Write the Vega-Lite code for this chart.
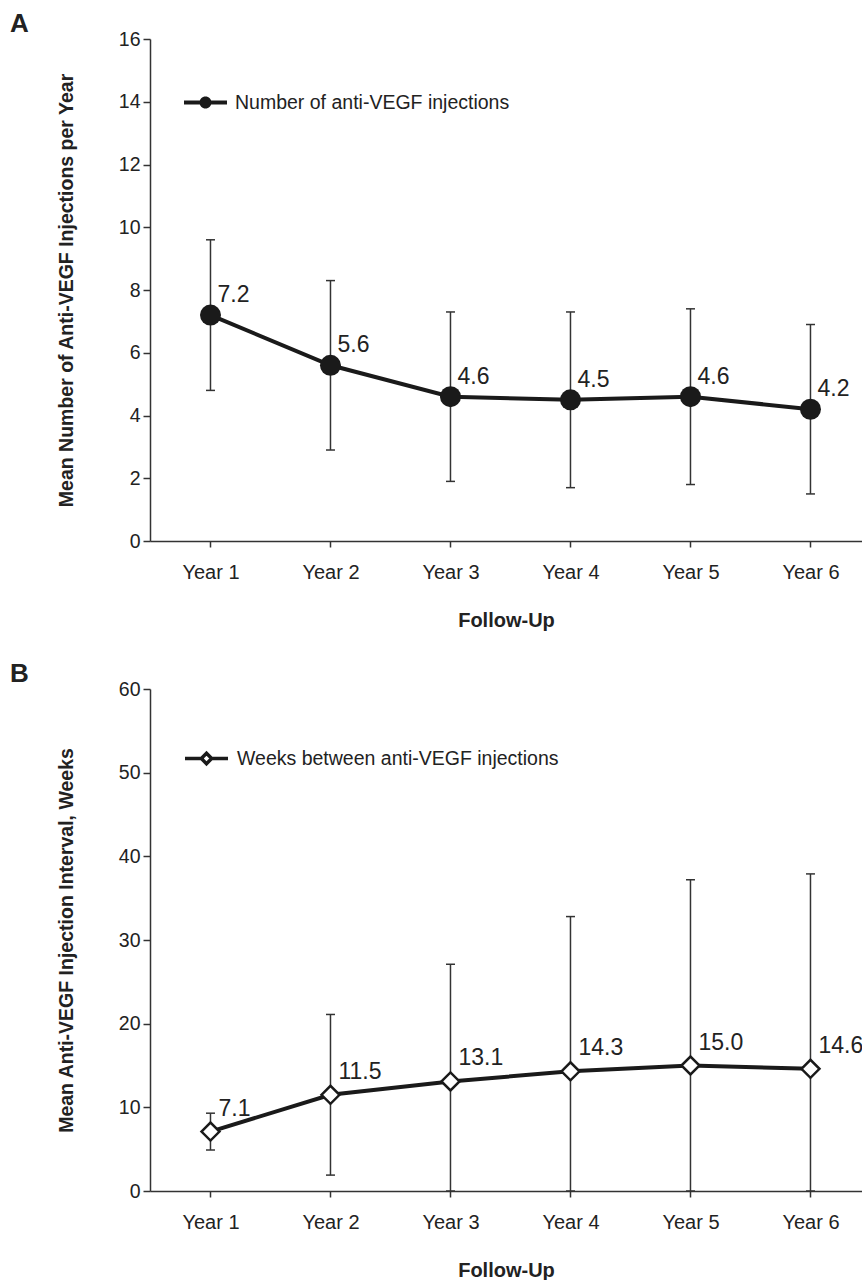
{
  "$schema": "https://vega.github.io/schema/vega-lite/v6.json",
  "padding": {"left": 10, "top": 11, "right": 0, "bottom": 0},
  "background": "white",
  "config": {
    "font": "Liberation Sans",
    "view": {"stroke": null},
    "axis": {"grid": false, "domainColor": "#333333", "tickColor": "#333333", "labelColor": "#222222", "titleColor": "#222222", "domainWidth": 1.5, "tickWidth": 1.5, "labelFont": "Liberation Sans", "titleFont": "Liberation Sans", "labelFontSize": 19.5, "titleFontWeight": "bold"},
    "concat": {"spacing": 31}
  },
  "resolve": {"legend": {"color": "independent", "stroke": "independent"}},
  "vconcat": [
    {
      "width": 712,
      "height": 502,
      "title": {"text": "A", "anchor": "start", "frame": "group", "dx": -140, "fontSize": 26, "fontWeight": "bold", "color": "#222222", "baseline": "bottom", "offset": -34},
      "data": {"values": [
        {"year": "Year 1", "mean": 7.2, "lo": 4.8, "hi": 9.6, "series": "Number of anti-VEGF injections"},
        {"year": "Year 2", "mean": 5.6, "lo": 2.9, "hi": 8.3, "series": "Number of anti-VEGF injections"},
        {"year": "Year 3", "mean": 4.6, "lo": 1.9, "hi": 7.3, "series": "Number of anti-VEGF injections"},
        {"year": "Year 4", "mean": 4.5, "lo": 1.7, "hi": 7.3, "series": "Number of anti-VEGF injections"},
        {"year": "Year 5", "mean": 4.6, "lo": 1.8, "hi": 7.4, "series": "Number of anti-VEGF injections"},
        {"year": "Year 6", "mean": 4.2, "lo": 1.5, "hi": 6.9, "series": "Number of anti-VEGF injections"}
      ]},
      "encoding": {
        "x": {"field": "year", "type": "ordinal", "scale": {"type": "point", "padding": 0.4667, "align": 0.54},
              "axis": {"title": "Follow-Up", "labelAngle": 0, "tickSize": 6, "labelPadding": 15, "labelFontSize": 20, "titleFontSize": 20, "titlePadding": 28}}
      },
      "layer": [
        {"mark": {"type": "rule", "color": "#333333", "strokeWidth": 1.5},
         "encoding": {"y": {"field": "lo", "type": "quantitative", "title": "Mean Number of Anti-VEGF Injections per Year", "scale": {"domain": [0, 16], "nice": false},
                            "axis": {"values": [0, 2, 4, 6, 8, 10, 12, 14, 16], "tickSize": 7, "labelPadding": 3, "titleFontSize": 19.5, "titlePadding": 42}},
                      "y2": {"field": "hi"}}},
        {"mark": {"type": "tick", "color": "#333333", "thickness": 1.5, "size": 9, "opacity": 1},
         "encoding": {"y": {"field": "hi", "type": "quantitative", "title": "Mean Number of Anti-VEGF Injections per Year"}}},
        {"mark": {"type": "tick", "color": "#333333", "thickness": 1.5, "size": 9, "opacity": 1},
         "encoding": {"y": {"field": "lo", "type": "quantitative", "title": "Mean Number of Anti-VEGF Injections per Year"}}},
        {"mark": {"type": "line", "color": "#1a1a1a", "strokeWidth": 4},
         "encoding": {"y": {"field": "mean", "type": "quantitative", "title": "Mean Number of Anti-VEGF Injections per Year"}}},
        {"mark": {"type": "point", "shape": "circle", "filled": true, "size": 441, "opacity": 1},
         "encoding": {"y": {"field": "mean", "type": "quantitative", "title": "Mean Number of Anti-VEGF Injections per Year"},
                      "color": {"field": "series", "type": "nominal", "scale": {"range": ["#1a1a1a"]},
                                "legend": {"title": null, "orient": "none", "legendX": 33, "legendY": 41, "padding": 0,
                                           "symbolType": "M-1,-0.09H-0.26V0.09H-1Z M0.26,-0.09H1V0.09H0.26Z M-0.28,0A0.28,0.28 0 1,1 0.28,0A0.28,0.28 0 1,1 -0.28,0Z",
                                           "symbolSize": 1849, "labelFontSize": 19.5, "labelColor": "#222222", "labelOffset": 7, "labelLimit": 600,
                                           "encode": {"symbols": {"update": {"fill": {"value": "#1a1a1a"}, "stroke": {"value": "#1a1a1a"}, "strokeWidth": {"value": 0}, "opacity": {"value": 1}}}}}}}},
        {"mark": {"type": "text", "align": "left", "baseline": "middle", "dx": 7, "dy": -20, "fontSize": 23, "color": "#222222"},
         "encoding": {"y": {"field": "mean", "type": "quantitative", "title": "Mean Number of Anti-VEGF Injections per Year"},
                      "text": {"field": "mean", "type": "quantitative", "format": ".1f"}}}
      ]
    },
    {
      "width": 712,
      "height": 502,
      "title": {"text": "B", "anchor": "start", "frame": "group", "dx": -140, "fontSize": 26, "fontWeight": "bold", "color": "#222222", "baseline": "bottom", "offset": -34},
      "data": {"values": [
        {"year": "Year 1", "mean": 7.1, "lo": 4.9, "hi": 9.3, "series": "Weeks between anti-VEGF injections"},
        {"year": "Year 2", "mean": 11.5, "lo": 1.9, "hi": 21.1, "series": "Weeks between anti-VEGF injections"},
        {"year": "Year 3", "mean": 13.1, "lo": 0, "hi": 27.1, "series": "Weeks between anti-VEGF injections"},
        {"year": "Year 4", "mean": 14.3, "lo": 0, "hi": 32.8, "series": "Weeks between anti-VEGF injections"},
        {"year": "Year 5", "mean": 15.0, "lo": 0, "hi": 37.2, "series": "Weeks between anti-VEGF injections"},
        {"year": "Year 6", "mean": 14.6, "lo": 0, "hi": 37.9, "series": "Weeks between anti-VEGF injections"}
      ]},
      "encoding": {
        "x": {"field": "year", "type": "ordinal", "scale": {"type": "point", "padding": 0.4667, "align": 0.54},
              "axis": {"title": "Follow-Up", "labelAngle": 0, "tickSize": 6, "labelPadding": 15, "labelFontSize": 20, "titleFontSize": 20, "titlePadding": 28}}
      },
      "layer": [
        {"mark": {"type": "rule", "color": "#333333", "strokeWidth": 1.5},
         "encoding": {"y": {"field": "lo", "type": "quantitative", "title": "Mean Anti-VEGF Injection Interval, Weeks", "scale": {"domain": [0, 60], "nice": false},
                            "axis": {"values": [0, 10, 20, 30, 40, 50, 60], "tickSize": 7, "labelPadding": 3, "titleFontSize": 19.5, "titlePadding": 42}},
                      "y2": {"field": "hi"}}},
        {"mark": {"type": "tick", "color": "#333333", "thickness": 1.5, "size": 9, "opacity": 1},
         "encoding": {"y": {"field": "hi", "type": "quantitative", "title": "Mean Anti-VEGF Injection Interval, Weeks"}}},
        {"mark": {"type": "tick", "color": "#333333", "thickness": 1.5, "size": 9, "opacity": 1},
         "encoding": {"y": {"field": "lo", "type": "quantitative", "title": "Mean Anti-VEGF Injection Interval, Weeks"}}},
        {"mark": {"type": "line", "color": "#1a1a1a", "strokeWidth": 4},
         "encoding": {"y": {"field": "mean", "type": "quantitative", "title": "Mean Anti-VEGF Injection Interval, Weeks"}}},
        {"mark": {"type": "point", "shape": "diamond", "filled": true, "fill": "white", "size": 324, "strokeWidth": 2.5, "opacity": 1},
         "encoding": {"y": {"field": "mean", "type": "quantitative", "title": "Mean Anti-VEGF Injection Interval, Weeks"},
                      "stroke": {"field": "series", "type": "nominal", "scale": {"range": ["#1a1a1a"]},
                                "legend": {"title": null, "orient": "none", "legendX": 33, "legendY": 46, "padding": 0,
                                           "symbolType": "M-1,0H-0.24M0.24,0H1M-0.24,0L0,-0.24L0.24,0L0,0.24Z",
                                           "symbolSize": 1849, "symbolStrokeWidth": 3.5, "symbolFillColor": "white", "symbolStrokeColor": "#1a1a1a",
                                           "labelFontSize": 19.5, "labelColor": "#222222", "labelOffset": 7, "labelLimit": 600,
                                           "encode": {"symbols": {"enter": {"strokeWidth": {"value": 3.5}}, "update": {"fill": {"value": "white"}, "stroke": {"value": "#1a1a1a"}, "strokeWidth": {"value": 3.5}, "opacity": {"value": 1}}}}}}}},
        {"mark": {"type": "text", "align": "left", "baseline": "middle", "dx": 8, "dy": -23, "fontSize": 23, "color": "#222222", "clip": true},
         "encoding": {"y": {"field": "mean", "type": "quantitative", "title": "Mean Anti-VEGF Injection Interval, Weeks"},
                      "text": {"field": "mean", "type": "quantitative", "format": ".1f"}}}
      ]
    }
  ]
}
